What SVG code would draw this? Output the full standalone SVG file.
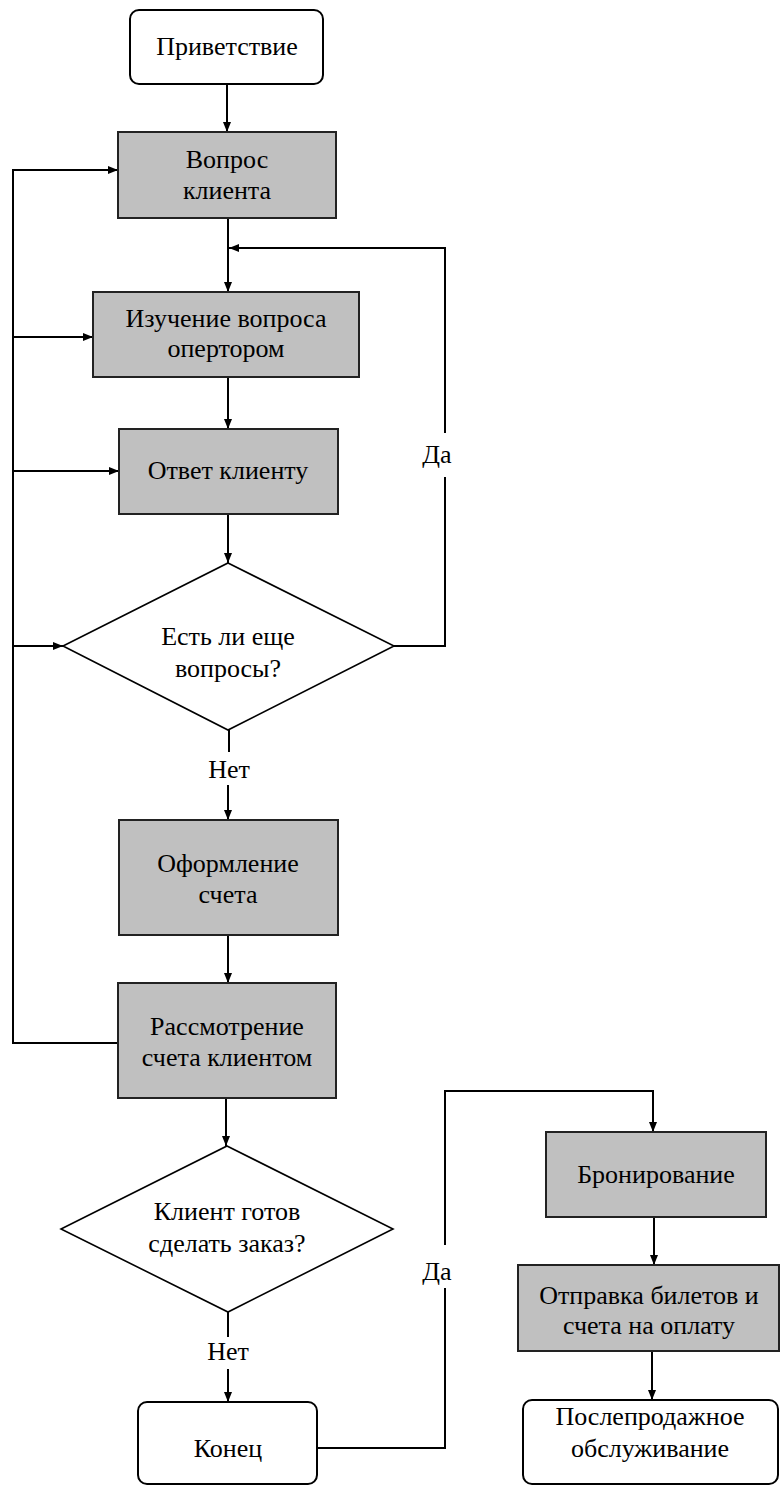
<svg xmlns="http://www.w3.org/2000/svg" width="780" height="1486" viewBox="0 0 780 1486">
<style>
.box{fill:#c0c0c0;stroke:#222;stroke-width:2}
.term{fill:#fff;stroke:#000;stroke-width:2}
.dia{fill:#fff;stroke:#000;stroke-width:1.6}
.ln{fill:none;stroke:#000;stroke-width:2}
text{font-family:"Liberation Serif","Times New Roman",serif;font-size:26px;text-anchor:middle;fill:#000}
</style>
<defs>
<marker id="ah" viewBox="0 0 10 10" refX="10" refY="5" markerWidth="10" markerHeight="10" markerUnits="userSpaceOnUse" orient="auto">
<path d="M0,1 L10,5 L0,9 Z" fill="#000"/>
</marker>
</defs>
<g id="connectors">
<path class="ln" d="M227,84 V132" marker-end="url(#ah)"/>
<path class="ln" d="M228,218 V292" marker-end="url(#ah)"/>
<path class="ln" d="M445,433 V248 H229" marker-end="url(#ah)"/>
<path class="ln" d="M394,646 H445 V477"/>
<path class="ln" d="M228,377 V429" marker-end="url(#ah)"/>
<path class="ln" d="M228,514 V563" marker-end="url(#ah)"/>
<path class="ln" d="M118,1043 H13 V170 H118" marker-end="url(#ah)"/>
<path class="ln" d="M13,337 H93" marker-end="url(#ah)"/>
<path class="ln" d="M13,471 H119" marker-end="url(#ah)"/>
<path class="ln" d="M13,646 H63" marker-end="url(#ah)"/>
<path class="ln" d="M229,730 V752"/>
<path class="ln" d="M228,785 V820" marker-end="url(#ah)"/>
<path class="ln" d="M228,935 V983" marker-end="url(#ah)"/>
<path class="ln" d="M226,1098 V1146" marker-end="url(#ah)"/>
<path class="ln" d="M228,1312 V1337"/>
<path class="ln" d="M228,1369 V1402" marker-end="url(#ah)"/>
<path class="ln" d="M317,1448 H445 V1288"/>
<path class="ln" d="M445,1245 V1091 H653 V1132" marker-end="url(#ah)"/>
<path class="ln" d="M654,1217 V1265" marker-end="url(#ah)"/>
<path class="ln" d="M652,1351 V1400" marker-end="url(#ah)"/>
<text x="437" y="463">Да</text>
<text x="229" y="778">Нет</text>
<text x="228" y="1360">Нет</text>
<text x="437" y="1280">Да</text>
</g>
<g id="n1"><rect class="term" x="130" y="10" width="193" height="74" rx="9"/><text x="227" y="55">Приветствие</text></g>
<g id="n2"><rect class="box" x="118" y="132" width="218" height="86"/><text x="227" y="168">Вопрос</text><text x="227" y="199">клиента</text></g>
<g id="n3"><rect class="box" x="93" y="292" width="266" height="85"/><text x="226" y="327">Изучение вопроса</text><text x="226" y="357">опертором</text></g>
<g id="n4"><rect class="box" x="119" y="429" width="219" height="85"/><text x="228" y="479">Ответ клиенту</text></g>
<g id="n5"><polygon class="dia" points="228,563 394,646 228,730 63,646"/><text x="228" y="645">Есть ли еще</text><text x="228" y="677">вопросы?</text></g>
<g id="n6"><rect class="box" x="119" y="820" width="219" height="115"/><text x="228" y="872">Оформление</text><text x="228" y="903">счета</text></g>
<g id="n7"><rect class="box" x="118" y="983" width="218" height="115"/><text x="227" y="1035">Рассмотрение</text><text x="227" y="1066">счета клиентом</text></g>
<g id="n8"><polygon class="dia" points="227,1146 393,1229 228,1312 61,1229"/><text x="227" y="1220">Клиент готов</text><text x="227" y="1252">сделать заказ?</text></g>
<g id="n9"><rect class="term" x="138" y="1402" width="179" height="82" rx="9"/><text x="228" y="1457">Конец</text></g>
<g id="n10"><rect class="box" x="546" y="1132" width="220" height="85"/><text x="656" y="1183">Бронирование</text></g>
<g id="n11"><rect class="box" x="518" y="1265" width="261" height="86"/><text x="649" y="1304">Отправка билетов и</text><text x="649" y="1334">счета на оплату</text></g>
<g id="n12"><rect class="term" x="523" y="1400" width="255" height="84" rx="9"/><text x="650" y="1425">Послепродажное</text><text x="650" y="1457">обслуживание</text></g>
</svg>
